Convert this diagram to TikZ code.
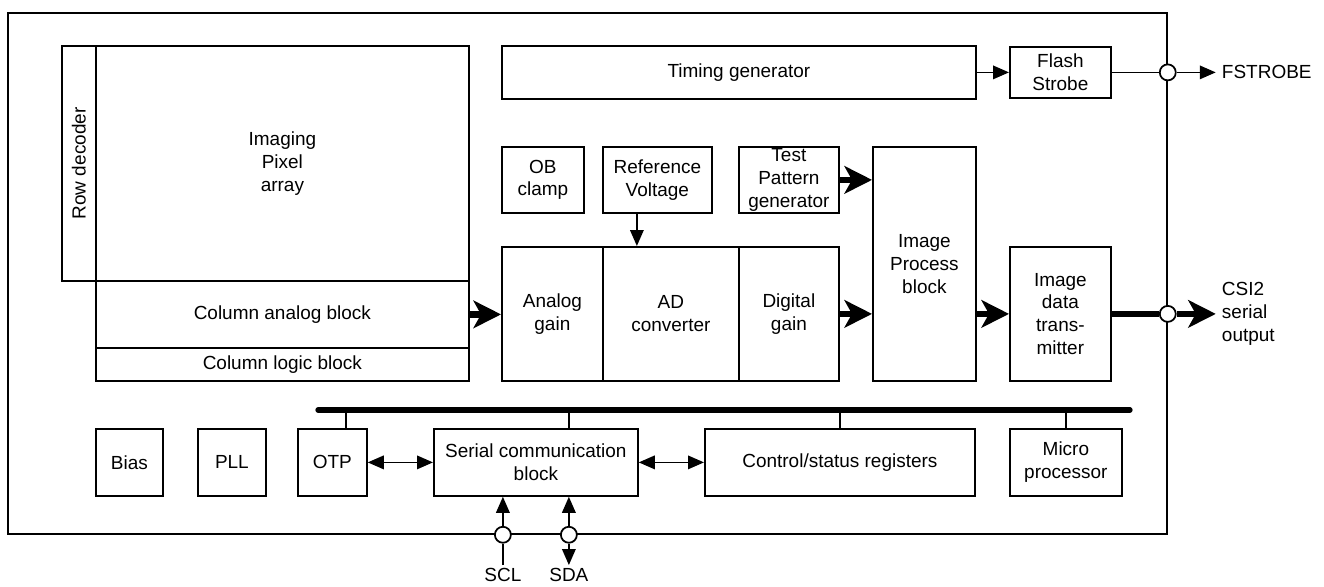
\documentclass[tikz,border=0pt]{standalone}
\usepackage{fontspec}
\setmainfont{Liberation Sans}
\usetikzlibrary{arrows.meta}

\tikzset{
  blk/.style={draw, line width=1pt, inner sep=0pt, align=center, anchor=north west},
  sz/.style 2 args={minimum width=#1*0.02cm, minimum height=#2*0.02cm},
  port/.style={circle, draw, line width=1pt, fill=white, minimum size=0.32cm, inner sep=0pt},
  pinlbl/.style={inner sep=1.5pt},
  wire/.style={line width=1pt},
  sig/.style={wire, -{Triangle[length=0.32cm,width=0.27cm]}},
  sigboth/.style={wire, {Triangle[length=0.32cm,width=0.27cm]}-{Triangle[length=0.32cm,width=0.27cm]}},
  bigsig/.style={line width=3.6pt, -{Stealth[length=0.55cm,width=0.55cm,inset=0.15cm]}}
}

\begin{document}
\begin{tikzpicture}[x=0.02cm, y=-0.02cm, font=\fontsize{10.8}{13}\selectfont]
        \useasboundingbox (0,0) rectangle (1324,586);

        % chip outline
        \node[blk, sz={1159}{521}] (chip) at (7,12) {};

        % sensor array
        \node[blk, sz={34}{235}, label={[rotate=90, anchor=center, inner sep=0pt]center:Row decoder}] (rowdec) at (61,45) {};
        \node[blk, sz={373}{235}] (pixel) at (95,45) {Imaging\\Pixel\\array};
        \node[blk, sz={373}{67}] (colana) at (95,280) {Column analog block};
        \node[blk, sz={373}{33}] (collog) at (95,347) {Column logic block};

        % signal chain
        \node[blk, sz={474}{53}] (timing) at (501,45) {Timing generator};
        \node[blk, sz={101}{51}] (flash) at (1009,46) {Flash\\Strobe};
        \node[blk, sz={82}{66}] (ob) at (501,146) {OB\\clamp};
        \node[blk, sz={109}{66}] (refv) at (602,146) {Reference\\Voltage};
        \node[blk, sz={100}{66}] (tpg) at (738,146) {Test\\Pattern\\generator};
        \node[blk, sz={103}{234}] (ipb) at (872,146) {Image\\Process\\block};
        \node[blk, sz={101}{134}] (again) at (501,246) {Analog\\gain};
        \node[blk, sz={136}{134}] (adc) at (602,246) {AD\\converter};
        \node[blk, sz={100}{134}] (dgain) at (738,246) {Digital\\gain};
        \node[blk, sz={101}{134}] (tx) at (1009,246) {Image\\data\\trans-\\mitter};

        % control blocks
        \node[blk, sz={67}{67}] (bias) at (95,428) {Bias};
        \node[blk, sz={68}{67}] (pll) at (197,428) {PLL};
        \node[blk, sz={69}{67}] (otp) at (297,428) {OTP};
        \node[blk, sz={204}{67}] (serial) at (433,428) {Serial communication\\block};
        \node[blk, sz={270}{67}] (ctrl) at (704,428) {Control/status registers};
        \node[blk, sz={112}{67}] (micro) at (1009,428) {Micro\\processor};

        % internal bus
        \coordinate (busL) at (318,410);
        \coordinate (busR) at (1130,410);
        \draw[line width=3pt, line cap=round] (busL) -- (busR);
        \draw[wire] ([xshift=0.27cm]otp.north) -- ++(0,-18);
        \draw[wire] ([xshift=0.66cm]serial.north) -- ++(0,-18);
        \draw[wire] (ctrl.north) -- ++(0,-18);
        \draw[wire] (micro.north) -- ++(0,-18);

        % data path
        \draw[bigsig] (colana.east) -- (again.west |- colana.east);
        \draw[bigsig] (tpg.east) -- (ipb.west |- tpg.east);
        \draw[bigsig] (dgain.east) -- (ipb.west |- dgain.east);
        \draw[bigsig] (ipb.east |- tx.east) -- (tx.west);
        \draw[sig] (timing.east |- flash.east) -- (flash.west);
        \draw[sig] ([xshift=-0.41cm]refv.south) -- ([xshift=-0.41cm]refv.south |- adc.north);
        \draw[sigboth] (otp.east) -- (serial.west);
        \draw[sigboth] (serial.east) -- (ctrl.west);

        % pins
        \node[port] (fspin) at (chip.east |- flash.east) {};
        \node[port] (csipin) at (chip.east |- tx.east) {};
        \node[port] (sclpin) at ([xshift=-0.66cm]serial.south |- chip.south) {};
        \node[port] (sdapin) at ([xshift=0.66cm]serial.south |- chip.south) {};
        \node[anchor=west] (fslbl) at ([xshift=0.96cm]fspin.center) {FSTROBE};
        \node[anchor=west, align=left] (csilbl) at ([xshift=0.96cm]csipin.center) {CSI2\\serial\\output};
        \node[pinlbl] (scllbl) at ([yshift=-0.8cm]sclpin.center) {SCL};
        \node[pinlbl] (sdalbl) at ([yshift=-0.8cm]sdapin.center) {SDA};

        \draw[wire] (flash.east) -- (fspin.west);
        \draw[sig] (fspin.east) -- (fslbl.west);
        \draw[line width=3.6pt] (tx.east) -- (csipin.west);
        \draw[bigsig] (csipin.east) -- (csilbl.west);
        \draw[wire] (scllbl.north) -- (sclpin.south);
        \draw[sig] (sclpin.north) -- (sclpin |- serial.south);
        \draw[sig] (sdapin.north) -- (sdapin |- serial.south);
        \draw[sig] (sdapin.south) -- (sdalbl.north);

    \end{tikzpicture}
\end{document}
